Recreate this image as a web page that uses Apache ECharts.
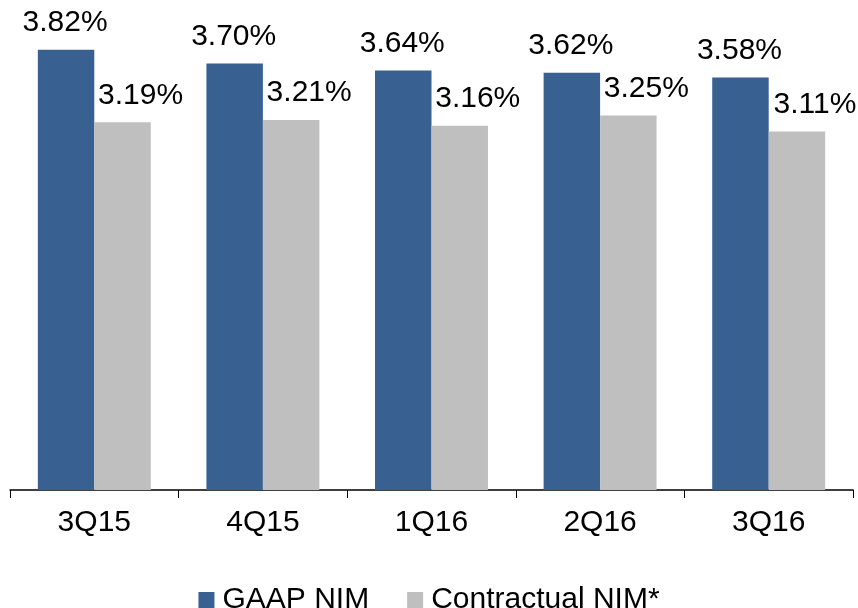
<!DOCTYPE html>
<html>
<head>
<meta charset="utf-8">
<script src="https://cdn.jsdelivr.net/npm/echarts@6/dist/echarts.min.js"></script>
<style>
  html, body { margin: 0; padding: 0; background: #fff; }
  #chart { width: 858px; height: 608px; }
</style>
</head>
<body>
<div id="chart"></div>
<script>
// quarters and NIM values (%)
const quarters = ['3Q15', '4Q15', '1Q16', '2Q16', '3Q16'];
const gaapNim = [3.82, 3.70, 3.64, 3.62, 3.58];
const contractualNim = [3.19, 3.21, 3.16, 3.25, 3.11];

const font = 'Arial, "Liberation Sans", sans-serif';

const chart = echarts.init(document.getElementById('chart'));
chart.setOption({
  animation: false,
  textStyle: { fontFamily: font },
  grid: { left: 10, right: 5, top: 29, bottom: 118, containLabel: false },
  legend: {
    top: 580,
    left: 'center',
    icon: 'rect',
    itemWidth: 16,
    itemHeight: 16,
    itemGap: 38,
    textStyle: { fontSize: 30, color: '#000', fontFamily: font, padding: [0, 0, 0, 3] },
    data: ['GAAP NIM', 'Contractual NIM*']
  },
  xAxis: {
    type: 'category',
    data: quarters,
    axisLine: { lineStyle: { color: '#000', width: 1.5 } },
    axisTick: { show: true, length: 8, lineStyle: { color: '#000' } },
    axisLabel: { fontSize: 30, color: '#000', margin: 18, fontFamily: font }
  },
  yAxis: {
    type: 'value',
    min: 0,
    max: 4,
    show: false,
    splitLine: { show: false }
  },
  series: [
    {
      name: 'GAAP NIM',
      type: 'bar',
      data: gaapNim,
      barGap: '0%',
      barCategoryGap: '33%',
      itemStyle: { color: '#386192' },
      label: {
        show: true,
        position: 'top',
        distance: 12,
        offset: [-1, 0],
        fontSize: 30,
        color: '#000',
        fontFamily: font,
        formatter: p => p.value.toFixed(2) + '%'
      }
    },
    {
      name: 'Contractual NIM*',
      type: 'bar',
      data: contractualNim,
      itemStyle: { color: '#bfbfbf' },
      label: {
        show: true,
        position: 'top',
        distance: 12,
        offset: [18, 0],
        fontSize: 30,
        color: '#000',
        fontFamily: font,
        formatter: p => p.value.toFixed(2) + '%'
      }
    }
  ]
});
</script>
</body>
</html>
